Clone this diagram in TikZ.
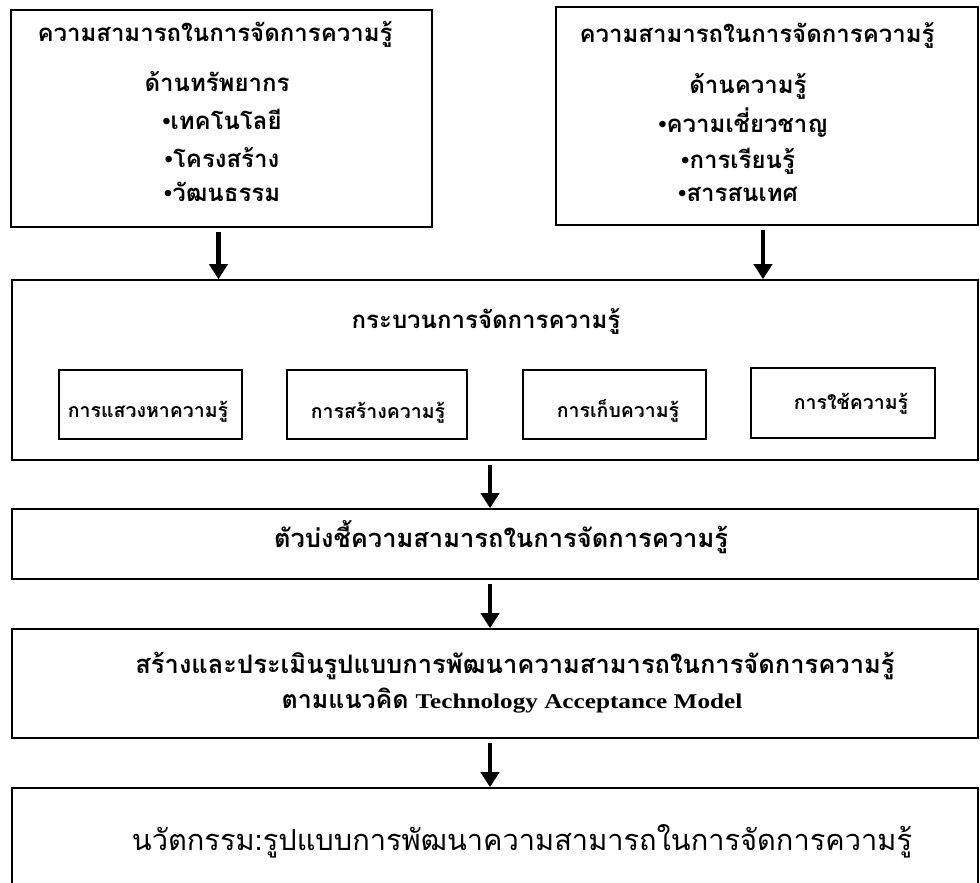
\documentclass[tikz,border=0pt]{standalone}
\usepackage{fontspec}
\newfontfamily\thai[Script=Thai]{Loma}
\newfontfamily\latinserif{Liberation Serif}
\newfontfamily\latinwide[FakeStretch=1.2]{Liberation Serif}
\usetikzlibrary{arrows.meta}
\tikzset{
  box/.style={draw, line width=1.6pt, inner sep=0pt},
  txt/.style={anchor=base, inner sep=0pt},
  arr/.style={line width=4.5pt, shorten <=4pt, -{Triangle[width=18pt,length=15pt]}},
  bigbold/.style={font=\thai\bfseries\fontsize{24}{24}\selectfont},
  midbold/.style={font=\thai\bfseries\fontsize{25.5}{25.5}\selectfont},
  subfont/.style={font=\thai\bfseries\fontsize{19.5}{19.5}\selectfont},
  finalfont/.style={font=\thai\fontsize{29}{29}\selectfont}
}
\newcommand{\bul}{{\latinserif\bfseries •}}
\begin{document}
\begin{tikzpicture}[x=1pt,y=-1pt]
\useasboundingbox (0,0) rectangle (980,883);
\clip (0,0) rectangle (980,883);
\fill[white] (0,0) rectangle (980,883);

% top boxes
\node[box, minimum width=421pt, minimum height=217pt] (resA) at (221.5,118.5) {};
\node[txt, bigbold] (a1) at (215,42) {ความสามารถในการจัดการความรู้};
\node[txt, bigbold] (a2) at (217,92) {ด้านทรัพยากร};
\node[txt, bigbold] (a3) at (222,129) {\bul เทคโนโลยี};
\node[txt, bigbold] (a4) at (222,167) {\bul โครงสร้าง};
\node[txt, bigbold] (a5) at (222,201) {\bul วัฒนธรรม};

\node[box, minimum width=422pt, minimum height=218pt] (resB) at (767,116) {};
\node[txt, bigbold] (b1) at (757,43) {ความสามารถในการจัดการความรู้};
\node[txt, bigbold] (b2) at (748,93) {ด้านความรู้};
\node[txt, bigbold] (b3) at (743,132) {\bul ความเชี่ยวชาญ};
\node[txt, bigbold] (b4) at (738,168) {\bul การเรียนรู้};
\node[txt, bigbold] (b5) at (738,201) {\bul สารสนเทศ};

% process box
\node[box, minimum width=966pt, minimum height=180pt] (proc) at (495,370) {};
\node[txt, bigbold] (ptitle) at (486,328) {กระบวนการจัดการความรู้};
\node[box, minimum width=183pt, minimum height=69pt] (s1) at (150.5,404.5) {};
\node[box, minimum width=180pt, minimum height=69pt] (s2) at (377,404.5) {};
\node[box, minimum width=183pt, minimum height=69pt] (s3) at (614.5,404.5) {};
\node[box, minimum width=184pt, minimum height=70pt] (s4) at (843,403) {};
\node[txt, subfont] (t1) at (148,417) {การแสวงหาความรู้};
\node[txt, subfont] (t2) at (378,418) {การสร้างความรู้};
\node[txt, subfont] (t3) at (618,417) {การเก็บความรู้};
\node[txt, subfont] (t4) at (851,409) {การใช้ความรู้};

% indicator
\node[box, minimum width=966pt, minimum height=70pt] (ind) at (495,544) {};
\node[txt, midbold] (indt) at (501,547) {ตัวบ่งชี้ความสามารถในการจัดการความรู้};

% assessment
\node[box, minimum width=966pt, minimum height=109pt] (ass) at (495,683.5) {};
\node[txt, midbold] (ass1) at (515,673) {สร้างและประเมินรูปแบบการพัฒนาความสามารถในการจัดการความรู้};
\node[txt] (ass2) at (512,708) {{\thai\bfseries\fontsize{25}{25}\selectfont ตามแนวคิด}\hspace{7pt}{\latinwide\bfseries\fontsize{21}{21}\selectfont Technology Acceptance Model}};

% final
\node[box, minimum width=966pt, minimum height=110pt] (fin) at (495,843) {};
\node[txt, finalfont] (fint) at (522,850) {นวัตกรรม:รูปแบบการพัฒนาความสามารถในการจัดการความรู้};

% arrows
\draw[arr] ([xshift=-3pt]resA.south) -- ([xshift=-3pt]resA.south |- proc.north);
\draw[arr] ([xshift=-4pt]resB.south) -- ([xshift=-4pt]resB.south |- proc.north);
\draw[arr] ([xshift=-5pt]proc.south) -- ([xshift=-5pt]ind.north);
\draw[arr] ([xshift=-5pt]ind.south) -- ([xshift=-5pt]ass.north);
\draw[arr] ([xshift=-5pt]ass.south) -- ([xshift=-5pt]fin.north);
\end{tikzpicture}
\end{document}
